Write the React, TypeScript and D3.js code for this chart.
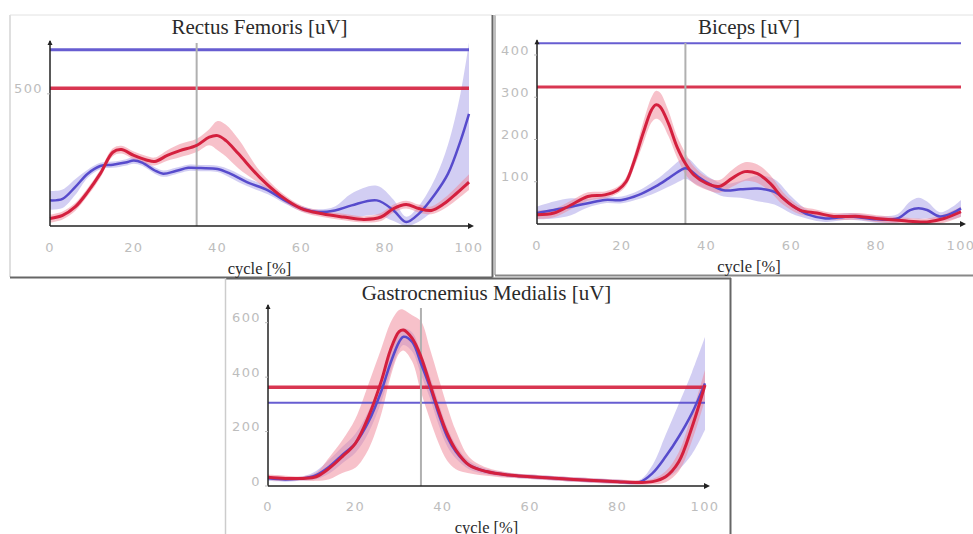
import React from "react";
import * as d3 from "d3";

// ---------- Data ----------
const xTicks = [0, 20, 40, 60, 80, 100];
const stancePct = 35;

// Rectus Femoris
const rfBlueX = [0, 3, 6, 9, 12, 15, 18, 20, 22, 25, 27, 30, 33, 36, 40, 43, 47, 52, 56, 60, 64, 68, 72, 78, 82, 85, 88, 92, 95, 98, 100];
const rfBlueY = [97, 103, 147, 198, 227, 232, 240, 248, 240, 210, 198, 208, 220, 219, 216, 198, 166, 135, 97, 66, 53, 59, 78, 97, 59, 15, 46, 123, 198, 323, 424];
const rfBlueSd = [35, 35, 30, 15, 12, 12, 12, 12, 12, 12, 12, 12, 12, 12, 12, 15, 15, 15, 12, 10, 10, 15, 45, 55, 40, 20, 30, 60, 110, 180, 270];
const rfRedX = [0, 3, 6, 9, 12, 15, 17, 20, 23, 25, 28, 31, 35, 38, 40, 42, 45, 50, 55, 60, 65, 70, 75, 79, 82, 85, 88, 91, 94, 97, 100];
const rfRedY = [28, 40, 72, 129, 198, 279, 289, 267, 250, 244, 267, 285, 305, 336, 342, 323, 273, 185, 115, 66, 46, 34, 25, 34, 66, 81, 66, 59, 84, 123, 166];
const rfRedSd = [15, 15, 15, 15, 15, 15, 15, 15, 15, 15, 20, 25, 25, 30, 55, 60, 55, 25, 15, 12, 12, 12, 12, 15, 15, 15, 15, 15, 20, 25, 30];
const rfRefBlue = 667;
const rfRefRed = 521;
const rfYTicks = [500];

// Biceps
const biRedX = [0, 4, 8, 12, 16, 19, 21, 23, 25, 27, 28, 29, 31, 33, 35, 37, 40, 43, 46, 49, 52, 55, 58, 62, 66, 70, 76, 80, 86, 92, 96, 100];
const biRedY = [22, 26, 45, 65, 69, 80, 100, 151, 214, 270, 282, 278, 238, 183, 143, 116, 96, 89, 108, 124, 119, 96, 61, 33, 26, 18, 18, 13, 8, 5, 13, 29];
const biRedSd = [10, 10, 10, 10, 8, 8, 10, 15, 25, 30, 33, 33, 30, 25, 25, 20, 15, 15, 20, 22, 22, 20, 15, 10, 8, 8, 8, 8, 8, 8, 10, 12];
const biBlueX = [0, 4, 8, 12, 16, 20, 24, 28, 31, 34, 35, 36, 38, 41, 44, 48, 52, 56, 60, 64, 68, 74, 80, 85, 88, 90, 92, 95, 98, 100];
const biBlueY = [26, 33, 41, 49, 57, 57, 69, 89, 108, 128, 132, 128, 112, 93, 80, 82, 84, 76, 45, 22, 13, 18, 11, 13, 33, 37, 33, 18, 26, 37];
const biBlueSd = [15, 20, 20, 10, 8, 8, 10, 15, 20, 25, 25, 25, 20, 15, 15, 20, 30, 30, 20, 10, 8, 8, 8, 10, 20, 25, 20, 10, 15, 20];
const biRefBlue = 428;
const biRefRed = 324;
const biYTicks = [100, 200, 300, 400];

// Gastrocnemius Medialis
const gmX = [0, 4, 8, 11, 14, 17, 20, 23, 26, 28, 30, 31, 33, 35, 37, 39, 41, 43, 46, 50, 55, 60, 70, 80, 85, 88, 91, 94, 97, 100];
const gmRedY = [32, 28, 28, 34, 65, 108, 157, 255, 389, 499, 567, 573, 542, 475, 377, 279, 193, 132, 77, 53, 40, 34, 24, 16, 13, 16, 34, 89, 215, 371];
const gmRedSd = [10, 10, 8, 15, 40, 60, 90, 120, 120, 100, 80, 75, 85, 130, 130, 120, 100, 70, 30, 15, 10, 8, 8, 8, 8, 10, 20, 35, 50, 55];
const gmBlueY = [28, 24, 28, 40, 71, 114, 157, 236, 352, 450, 529, 548, 529, 450, 365, 267, 181, 126, 77, 53, 40, 34, 24, 16, 14, 47, 108, 181, 267, 377];
const gmBlueSd = [10, 8, 8, 15, 25, 30, 35, 40, 40, 35, 30, 30, 35, 40, 40, 40, 35, 25, 15, 10, 8, 8, 8, 8, 8, 30, 80, 120, 150, 170];
const gmRefRed = 363;
const gmRefBlue = 306;
const gmYTicks = [0, 200, 400, 600];

// ---------- Styles ----------
const BLUE = "#574bcc";
const RED = "#d4203e";
const BLUE_BAND = "#a59ee8";
const RED_BAND = "#ef8496";

type Series = { x: number[]; y: number[]; sd: number[] };

type PanelCfg = {
  title: string;
  x0: number; x1: number; yBase: number; yTop: number; yMax: number;
  titleY: number; cycleY: number; tickY: number;
  yTicks: number[];
  refBlue: number; refRed: number; refBlueW: number; refRedW: number;
  blue: Series; red: Series;
  vTop: number;
  id: string;
};

function Panel({ c }: { c: PanelCfg }) {
  const xs = d3.scaleLinear().domain([0, 100]).range([c.x0, c.x1]);
  const ys = d3.scaleLinear().domain([0, c.yMax]).range([c.yBase, c.yTop]);
  const mk = (s: Series) => s.x.map((x, i) => ({ x, y: s.y[i], sd: s.sd[i] }));
  const curve = d3.curveCatmullRom.alpha(0.5);
  const line = d3.line<any>().x((d) => xs(d.x)).y((d) => ys(d.y)).curve(curve);
  const area = d3
    .area<any>()
    .x((d) => xs(d.x))
    .y0((d) => ys(Math.max(0, d.y - d.sd)))
    .y1((d) => ys(Math.min(c.yMax, d.y + d.sd)))
    .curve(curve);
  const b = mk(c.blue);
  const r = mk(c.red);
  const cx = (c.x0 + c.x1) / 2;
  return (
    <g>
      <text x={cx} y={c.titleY} textAnchor="middle" fontFamily="Liberation Serif, Times New Roman, serif" fontSize={21} fill="#2a2a2a">
        {c.title}
      </text>
      <path d={area(b) || ""} fill={BLUE_BAND} fillOpacity={0.5} />
      <path d={area(r) || ""} fill={RED_BAND} fillOpacity={0.5} />
      <line x1={xs(0)} x2={xs(100)} y1={ys(c.refBlue)} y2={ys(c.refBlue)} stroke={BLUE} strokeWidth={c.refBlueW} strokeOpacity={0.9} />
      <line x1={xs(0)} x2={xs(100)} y1={ys(c.refRed)} y2={ys(c.refRed)} stroke={RED} strokeWidth={c.refRedW} strokeOpacity={0.9} />
      <line x1={xs(stancePct)} x2={xs(stancePct)} y1={c.vTop} y2={c.yBase} stroke="#b0b0b0" strokeWidth={2} />
      <path d={line(b) || ""} fill="none" stroke={BLUE} strokeWidth={2.5} />
      <path d={line(r) || ""} fill="none" stroke={RED} strokeWidth={3} />
      <line x1={c.x0} x2={c.x0} y1={c.yBase} y2={c.yTop} stroke="#222" strokeWidth={1.5} />
      <line x1={c.x0} x2={c.x1 + 2} y1={c.yBase} y2={c.yBase} stroke="#222" strokeWidth={1.5} />
      <path d={`M${c.x0 - 2.5},${c.yTop + 4} L${c.x0},${c.yTop - 1} L${c.x0 + 2.5},${c.yTop + 4} Z`} fill="#222" />
      <path d={`M${c.x1 - 1},${c.yBase - 3} L${c.x1 + 5},${c.yBase} L${c.x1 - 1},${c.yBase + 3} Z`} fill="#222" />
      {xTicks.map((t) => (
        <text key={t} x={xs(t)} y={c.tickY} textAnchor="middle" fontFamily="DejaVu Sans, sans-serif" fontSize={13} letterSpacing={1.4} fill="#bdbdbd">
          {t}
        </text>
      ))}
      {c.yTicks.map((t) => (
        <g key={t}>
          <line x1={c.x0 - 3} x2={c.x0} y1={ys(t)} y2={ys(t)} stroke="#bbb" strokeWidth={1} />
          <text x={c.x0 - 7} y={ys(t) - 5} dy="0.35em" textAnchor="end" fontFamily="DejaVu Sans, sans-serif" fontSize={13} letterSpacing={1.4} fill="#bdbdbd">
            {t}
          </text>
        </g>
      ))}
      <text x={cx} y={c.cycleY} textAnchor="middle" fontFamily="Liberation Serif, Times New Roman, serif" fontSize={16.5} fill="#2a2a2a">
        cycle [%]
      </text>
    </g>
  );
}

const panels: PanelCfg[] = [
  {
    title: "Rectus Femoris [uV]", x0: 50, x1: 469, yBase: 226, yTop: 41, yMax: 700,
    titleY: 34, cycleY: 274, tickY: 252, yTicks: rfYTicks,
    refBlue: rfRefBlue, refRed: rfRefRed, refBlueW: 3, refRedW: 3.5,
    blue: { x: rfBlueX, y: rfBlueY, sd: rfBlueSd }, red: { x: rfRedX, y: rfRedY, sd: rfRedSd },
    vTop: 43, id: "rf",
  },
  {
    title: "Biceps [uV]", x0: 537, x1: 961, yBase: 224, yTop: 40.2, yMax: 435,
    titleY: 34, cycleY: 272, tickY: 250, yTicks: biYTicks,
    refBlue: biRefBlue, refRed: biRefRed, refBlueW: 2, refRedW: 3,
    blue: { x: biBlueX, y: biBlueY, sd: biBlueSd }, red: { x: biRedX, y: biRedY, sd: biRedSd },
    vTop: 43, id: "bi",
  },
  {
    title: "Gastrocnemius Medialis [uV]", x0: 268, x1: 705, yBase: 486, yTop: 305, yMax: 665,
    titleY: 300, cycleY: 533, tickY: 511, yTicks: gmYTicks,
    refBlue: gmRefBlue, refRed: gmRefRed, refBlueW: 2, refRedW: 3.5,
    blue: { x: gmX, y: gmBlueY, sd: gmBlueSd }, red: { x: gmX, y: gmRedY, sd: gmRedSd },
    vTop: 308, id: "gm",
  },
];

export default function App() {
  return (
    <svg width={973} height={534} style={{ position: "absolute", left: 0, top: 0, background: "#fff" }}>
      <rect x={10} y={15} width={482} height={262} fill="#fff" />
      <line x1={10} y1={15} x2={10} y2={277} stroke="#d4d4d4" strokeWidth={1.5} />
      <line x1={10} y1={15} x2={492} y2={15} stroke="#e2e2e2" strokeWidth={1} />
      <line x1={492.5} y1={15} x2={492.5} y2={277.5} stroke="#666" strokeWidth={2} />
      <line x1={10} y1={277.5} x2={492.5} y2={277.5} stroke="#666" strokeWidth={2} />

      <rect x={495} y={15} width={480} height={260} fill="#fff" />
      <line x1={495} y1={15} x2={495} y2={275} stroke="#aaa" strokeWidth={1.5} />
      <line x1={495} y1={15} x2={973} y2={15} stroke="#e2e2e2" strokeWidth={1} />
      <line x1={495} y1={275.5} x2={973} y2={275.5} stroke="#888" strokeWidth={2} />

      <rect x={225} y={278} width={505} height={260} fill="#fff" />
      <line x1={225} y1={278.5} x2={731} y2={278.5} stroke="#666" strokeWidth={2} />
      <line x1={225.5} y1={278} x2={225.5} y2={534} stroke="#ccc" strokeWidth={1.5} />
      <line x1={730.5} y1={278} x2={730.5} y2={534} stroke="#666" strokeWidth={2} />

      {panels.map((p) => (
        <Panel key={p.id} c={p} />
      ))}
    </svg>
  );
}
